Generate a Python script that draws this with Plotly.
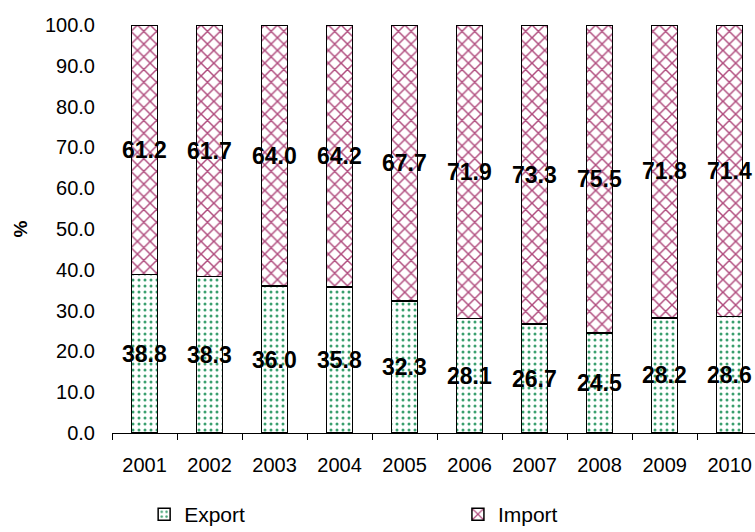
import plotly.graph_objects as go

years = ["2001", "2002", "2003", "2004", "2005", "2006", "2007", "2008", "2009", "2010"]
export_share = [38.8, 38.3, 36.0, 35.8, 32.3, 28.1, 26.7, 24.5, 28.2, 28.6]
import_share = [61.2, 61.7, 64.0, 64.2, 67.7, 71.9, 73.3, 75.5, 71.8, 71.4]
y_ticks = [0, 10, 20, 30, 40, 50, 60, 70, 80, 90, 100]

FONT = "Liberation Sans, Arial, sans-serif"
GREEN = "#3a9f6e"
MAROON = "#b04c7e"

fig = go.Figure()
fig.add_trace(go.Bar(
    name="Export", x=years, y=export_share, width=0.4, legend="legend",
    marker=dict(color="white", line=dict(color="black", width=1.5),
                pattern=dict(shape=".", fgcolor=GREEN, bgcolor="white",
                             size=6, solidity=0.2, fillmode="replace")),
))
fig.add_trace(go.Bar(
    name="Import", x=years, y=import_share, width=0.4, legend="legend2",
    marker=dict(color="white", line=dict(color="black", width=1.5),
                pattern=dict(shape="x", fgcolor=MAROON, bgcolor="white",
                             size=9, solidity=0.3, fillmode="replace")),
))

# value labels centred on each stacked segment
annotations = []
for i, (ex, im) in enumerate(zip(export_share, import_share)):
    for yc, val in ((ex / 2, ex), (ex + im / 2, im)):
        annotations.append(dict(
            xref="x", yref="y", x=i, y=yc, text=f"<b>{val:.1f}</b>",
            showarrow=False, xanchor="center", yanchor="middle",
            font=dict(family=FONT, size=23, color="black"),
        ))

legend_common = dict(orientation="h", yanchor="middle", y=-0.2,
                     xanchor="left", bgcolor="rgba(0,0,0,0)",
                     font=dict(family=FONT, size=21, color="black"))

fig.update_layout(
    width=755, height=532,
    margin=dict(l=112, r=0, t=25, b=99, autoexpand=False),
    barmode="stack",
    plot_bgcolor="white", paper_bgcolor="white",
    font=dict(family=FONT, size=20, color="black"),
    annotations=annotations,
    showlegend=True,
    legend=dict(x=0.05, **legend_common),
    legend2=dict(x=0.538, **legend_common),
    xaxis=dict(
        range=[-0.5, 9.39], showline=True, linecolor="black", linewidth=1,
        ticks="outside", tickson="boundaries", ticklen=6, tickcolor="black",
        ticklabelstandoff=14, showgrid=False, zeroline=False,
        tickfont=dict(family=FONT, size=20),
    ),
    yaxis=dict(
        range=[0, 100], tickvals=y_ticks,
        ticktext=[f"{v:.1f}" for v in y_ticks],
        showline=False, showgrid=False, zeroline=False, ticks="",
        ticklabelstandoff=16,
        tickfont=dict(family=FONT, size=20),
        title=dict(text="<b>%</b>", font=dict(family=FONT, size=19), standoff=12),
    ),
)

fig.write_html("out.html")
